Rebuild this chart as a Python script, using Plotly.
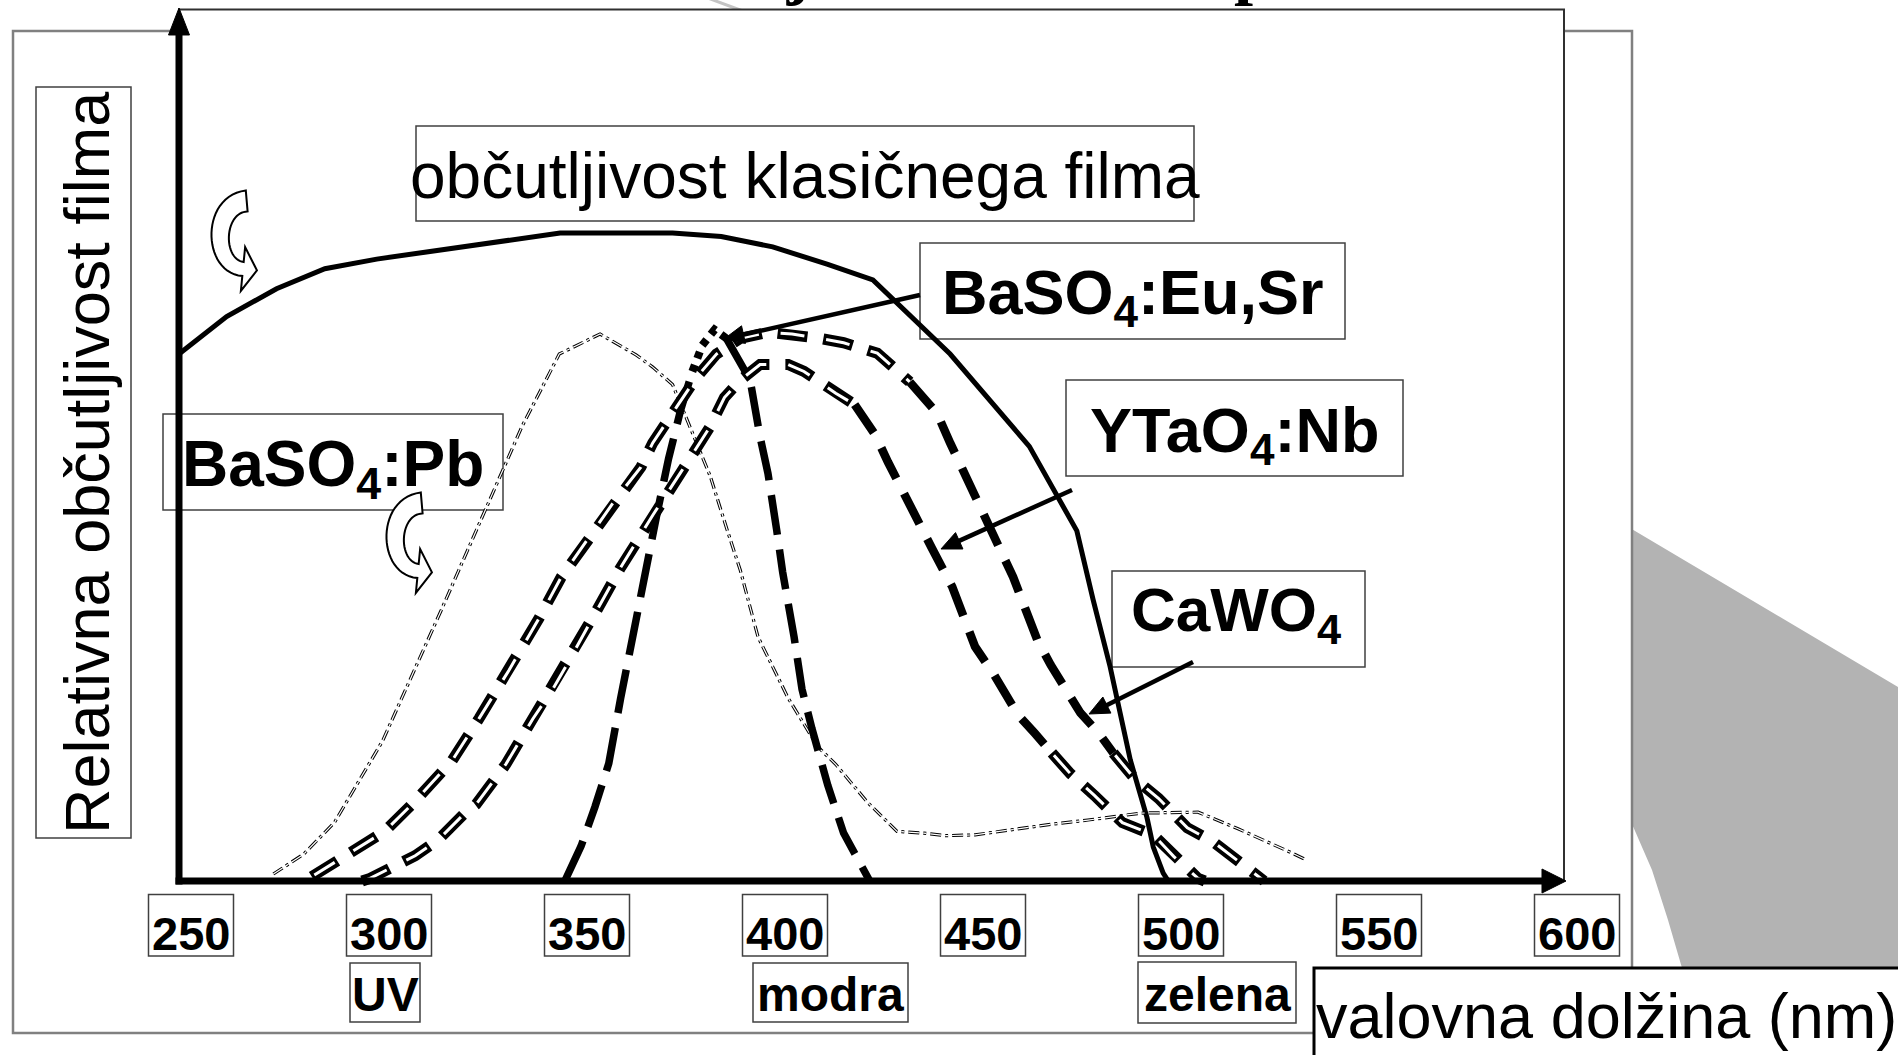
import numpy as np
import plotly.graph_objects as go

# ---------------- data ----------------
# classic film sensitivity (solid curve)
film_nm = [247.2, 259.0, 271.6, 283.8, 296.9, 322.2, 343.2, 371.6, 383.9, 396.9, 410.8,
           422.2, 441.7, 461.7, 473.7, 477.8, 482.1, 487.2, 491.4, 493.0, 495.5, 496.8]
film_y = [60.6, 64.8, 68.0, 70.3, 71.4, 73.0, 74.4, 74.4, 74.0, 72.8, 70.8,
          69.0, 60.5, 49.9, 40.2, 32.3, 24.6, 13.9, 7.3, 3.9, 0.9, 0.0]

# BaSO4:Pb emission (thin dash-dot)
pb_nm = [270.8, 278.5, 286.2, 298.4, 313.1, 333.6, 343.0, 353.3, 362.4, 366.6, 371.6,
         376.6, 381.1, 385.4, 388.7, 393.2, 400.8, 408.3, 412.8, 420.9, 428.3, 435.0,
         440.5, 448.0, 458.7, 467.1, 476.5, 490.0, 504.3, 514.4, 527.6, 531.3]
pb_y = [0.8, 3.1, 6.7, 16.1, 31.0, 52.2, 60.5, 62.8, 60.4, 59.0, 57.0,
        51.5, 46.5, 40.3, 35.7, 28.0, 21.0, 15.4, 13.4, 9.0, 5.7, 5.5,
        5.2, 5.3, 6.0, 6.5, 7.0, 7.8, 7.9, 6.0, 3.3, 2.5]

# BaSO4:Eu,Sr emission (long dashes)
eusr_nm = [344.4, 348.5, 352.0, 355.5, 358.5, 361.0, 363.2, 365.4, 367.6, 370.6, 373.6,
           376.6, 379.1, 382.2, 385.2, 388.7, 391.2, 393.7, 395.7, 397.9, 399.4, 402.3,
           404.3, 406.8, 410.8, 414.8, 417.8, 421.4]
eusr_y = [0.0, 4.0, 8.5, 13.5, 21.0, 27.0, 31.8, 37.0, 42.0, 48.5, 54.0,
          58.5, 61.5, 63.3, 62.3, 59.5, 57.5, 51.0, 46.8, 40.3, 35.5, 28.0,
          22.0, 17.5, 11.0, 5.5, 3.0, 0.0]

# YTaO4:Nb emission (heavy dashes, inner)
ytao_nm = [293.2, 295.2, 306.6, 312.6, 319.6, 322.0, 329.5, 336.3, 341.2, 345.0, 350.2,
           352.5, 358.5, 360.8, 366.6, 373.5, 381.0, 384.7, 388.7, 393.7, 400.8, 404.8,
           408.8, 412.8, 417.6, 422.8, 426.0, 431.0, 437.1, 442.2, 448.0, 452.5, 458.8,
           463.0, 467.4, 472.1, 478.2, 485.2, 493.0, 498.2, 504.3, 506.0]
ytao_y = [0.0, 0.3, 2.9, 4.8, 8.0, 8.8, 13.4, 18.6, 21.9, 24.9, 29.2,
          31.1, 36.0, 37.7, 42.0, 46.8, 52.1, 55.5, 57.5, 59.3, 59.3, 58.5,
          57.3, 56.0, 54.7, 51.2, 48.1, 43.5, 38.2, 33.8, 26.9, 23.9, 19.1,
          17.0, 14.7, 12.3, 9.8, 6.7, 5.3, 2.8, 0.3, 0.0]

# CaWO4 emission (heavy dashes, outer)
cawo_nm = [280.5, 292.2, 298.9, 305.8, 315.9, 322.8, 330.3, 337.8, 343.5, 351.8, 357.5,
           363.6, 366.6, 372.6, 377.6, 382.7, 388.7, 395.7, 401.8, 408.8, 414.8, 423.3,
           431.5, 438.4, 441.7, 446.7, 452.6, 457.6, 463.7, 467.1, 474.6, 479.2, 482.9,
           488.2, 494.3, 501.6, 508.1, 515.7, 521.0]
cawo_y = [0.5, 3.8, 5.7, 8.8, 13.8, 18.7, 24.2, 30.1, 34.9, 40.3, 44.0,
          47.5, 50.3, 54.4, 57.8, 60.5, 62.3, 63.0, 62.8, 62.3, 61.8, 60.6,
          57.3, 53.7, 50.3, 45.5, 40.0, 34.9, 27.7, 24.8, 19.3, 17.0, 14.7,
          11.8, 9.5, 6.1, 4.5, 1.8, 0.0]

tick_vals = [250, 300, 350, 400, 450, 500, 550, 600]
tick_text = ["250", "300", "350", "400", "450", "500", "550", "600"]
band_text = ["UV", "modra", "zelena"]

# ---------------- page geometry ----------------
W, H = 1898, 1055
PX_PER_NM = 3.96
X_AT_250 = 191.0
X0 = 250 - X_AT_250 / PX_PER_NM
X1 = X0 + W / PX_PER_NM
Y_BASE = 881.0
PX_PER_UNIT = 8.71
Y0 = (Y_BASE - H) / PX_PER_UNIT
Y1 = Y_BASE / PX_PER_UNIT

SANS = "Liberation Sans, Arial, sans-serif"
SERIF = "Liberation Serif, Times New Roman, serif"


def PX(x):
    return x / W


def PY(y):
    return 1 - y / H


shapes = []


def rect(x0, y0, x1, y1, color, lw, fill="white", layer="below"):
    shapes.append(dict(type="rect", xref="paper", yref="paper",
                       x0=PX(x0), x1=PX(x1), y0=PY(y1), y1=PY(y0),
                       line=dict(color=color, width=lw), fillcolor=fill, layer=layer))


def poly(points, fill, color, lw, layer="below"):
    d = "M " + " L ".join(f"{PX(x):.6f},{PY(y):.6f}" for x, y in points) + " Z"
    shapes.append(dict(type="path", xref="paper", yref="paper", path=d,
                       fillcolor=fill, line=dict(color=color, width=lw), layer=layer))


def seg(p, q, color, lw, layer="above"):
    shapes.append(dict(type="line", xref="paper", yref="paper", x0=PX(p[0]), y0=PY(p[1]),
                       x1=PX(q[0]), y1=PY(q[1]), line=dict(color=color, width=lw), layer=layer))


def pointer(start, tip, lw=4.5, head_len=20, head_hw=9):
    s = np.array(start, float)
    e = np.array(tip, float)
    d = (e - s) / np.linalg.norm(e - s)
    n = np.array([-d[1], d[0]])
    base = e - d * head_len
    seg(tuple(s), tuple(base + d * 2), "black", lw)
    poly([tuple(e), tuple(base + n * head_hw), tuple(base - n * head_hw)], "black", "black", 1, layer="above")


def curly_arrow(dx, dy):
    P = np.array([[246.7, 201.0], [212.0, 204.0], [212.0, 266.0], [243.0, 269.0]])
    P = P + np.array([dx, dy])
    t = np.linspace(0, 1, 30)[:, None]
    pts = ((1 - t) ** 3) * P[0] + 3 * ((1 - t) ** 2) * t * P[1] + 3 * (1 - t) * t ** 2 * P[2] + t ** 3 * P[3]
    der = 3 * ((1 - t) ** 2) * (P[1] - P[0]) + 6 * (1 - t) * t * (P[2] - P[1]) + 3 * t ** 2 * (P[3] - P[2])
    der = der / np.linalg.norm(der, axis=1)[:, None]
    nrm = np.column_stack([-der[:, 1], der[:, 0]])
    hw = (10.5 - 3.5 * t[:, 0])[:, None]
    left = pts + nrm * hw
    right = pts - nrm * hw
    d_end = der[-1]
    n_end = nrm[-1]
    head = [P[3] + n_end * 22, P[3] + d_end * 14, P[3] - n_end * 22]
    outline = list(map(tuple, left)) + [tuple(h) for h in head] + list(map(tuple, right[::-1]))
    poly(outline, "white", "black", 2, layer="below")


# background decorations
seg((705, -3), (751, 14), "#c4c4c4", 3, layer="below")
poly([(1630, 528), (1898, 687), (1898, 1055), (1695, 1055), (1682, 968), (1668, 920),
      (1652, 870), (1632, 824)], "#b3b3b3", "rgba(0,0,0,0)", 0)
rect(13, 31, 1632, 1033, "#808080", 2.5)
rect(179, 9.5, 1564, 881, "#303030", 2)

# label boxes
rect(36, 87, 131, 838, "#404040", 1.5)
rect(416, 126, 1194, 221, "#404040", 1.5)
rect(920, 243, 1345, 339, "#404040", 1.5)
rect(1066, 380, 1403, 476, "#404040", 1.5)
rect(1112, 571, 1365, 667, "#404040", 1.5)
rect(163, 414, 503, 510, "#404040", 1.5)
rect(350, 963, 420, 1022, "#404040", 1.5)
rect(753, 963, 908, 1022, "#404040", 1.5)
rect(1138, 962, 1296, 1023, "#404040", 1.5)
rect(1314, 968, 1902, 1075, "black", 3)

half_box = 42.5 / PX_PER_NM
for v in tick_vals:
    shapes.append(dict(type="rect", xref="x", yref="paper", x0=v - half_box, x1=v + half_box,
                       y0=PY(956), y1=PY(894.5), line=dict(color="#404040", width=1.5),
                       fillcolor="white", layer="below"))

curly_arrow(0, 0)
curly_arrow(175, 302)

# axes with arrowheads (above traces)
seg((179, 884.5), (179, 30), "black", 7)
poly([(179, 8), (168.5, 35), (189.5, 35)], "black", "black", 1, layer="above")
seg((175.5, 881), (1545, 881), "black", 7)
poly([(1566, 881), (1542, 869), (1542, 893)], "black", "black", 1, layer="above")

# label pointers
pointer((920, 295), (724, 339))
pointer((1072, 490), (941, 549))
pointer((1193, 662), (1089, 714))

# ---------------- traces ----------------
fig = go.Figure()


def add(xs, ys, color, width, dash):
    fig.add_trace(go.Scatter(x=xs, y=ys, mode="lines", hoverinfo="skip", showlegend=False,
                             line=dict(color=color, width=width, dash=dash)))


def part(xs, ys, lo, hi):
    sel = [(a, b) for a, b in zip(xs, ys) if lo <= a <= hi]
    return [a for a, _ in sel], [b for _, b in sel]


HOLLOW_OUT = "30px,16px"
HOLLOW_IN = "0px,3px,24px,19px"
SOLID_DASH = "34px,17px"

add(film_nm, film_y, "black", 5, "solid")

# BaSO4:Pb thin outlined dash-dot
add(pb_nm, pb_y, "black", 3.2, "11px,4px,3px,4px")
add(pb_nm, pb_y, "white", 1.2, "11px,4px,3px,4px")

# BaSO4:Eu,Sr
xs, ys = part(eusr_nm, eusr_y, 0, 376.6)
add(xs, ys, "black", 7.5, "44px,15px")
xs, ys = part(eusr_nm, eusr_y, 376.6, 385.2)
add(xs, ys, "black", 8, "7px,7px")
xs, ys = part(eusr_nm, eusr_y, 385.2, 999)
add(xs, ys, "black", 7.5, "40px,15px")


def heavy(nm, yy, solid_lo, solid_hi):
    for lo, hi, kind in [(0, solid_lo, "h"), (solid_lo, solid_hi, "s"), (solid_hi, 999, "h")]:
        xs, ys = part(nm, yy, lo, hi)
        if kind == "h":
            add(xs, ys, "black", 11, HOLLOW_OUT)
            add(xs, ys, "white", 3, HOLLOW_IN)
        else:
            add(xs, ys, "black", 8.5, SOLID_DASH)


heavy(ytao_nm, ytao_y, 417.6, 467.4)
heavy(cawo_nm, cawo_y, 431.5, 482.9)

# ---------------- annotations ----------------
ann = []


def text(t, xc, yc, size, bold=False, family=SANS, angle=0, xanchor="center", yanchor="middle"):
    ann.append(dict(text=t, x=PX(xc), y=PY(yc), xref="paper", yref="paper", showarrow=False,
                    xanchor=xanchor, yanchor=yanchor, textangle=angle, borderpad=0,
                    font=dict(family=family, size=size, color="black",
                              weight="bold" if bold else "normal")))


# slide title that sits above the page edge in the reference (only its descenders show)
text("Občutljivost filma in spektri", 584, 8, 68.5, bold=True, family=SERIF,
     xanchor="left", yanchor="bottom")

text("Relativna občutljivost filma", 87, 463, 63, angle=-90)
text("občutljivost klasičnega filma", 805, 176, 64)
text("BaSO<sub>4</sub>:Eu,Sr", 1133, 296, 63, bold=True)
text("YTaO<sub>4</sub>:Nb", 1234, 435, 63, bold=True)
text("CaWO<sub>4</sub>", 1236, 614, 62, bold=True)
text("BaSO<sub>4</sub>:Pb", 333, 468, 64, bold=True)
text("valovna dolžina (nm)", 1606, 1016, 63)

for v, lab in zip(tick_vals, tick_text):
    ann.append(dict(text=lab, x=v, y=PY(933), xref="x", yref="paper", showarrow=False,
                    xanchor="center", yanchor="middle",
                    font=dict(family=SANS, size=47, color="black", weight="bold")))

band_pos = [(385, 994), (830.5, 994), (1217, 994)]
for lab, (bx, by) in zip(band_text, band_pos):
    text(lab, bx, by, 48, bold=True)

fig.update_layout(
    width=W, height=H, autosize=False,
    margin=dict(l=0, r=0, t=0, b=0, pad=0),
    paper_bgcolor="white", plot_bgcolor="rgba(0,0,0,0)",
    xaxis=dict(range=[X0, X1], visible=False, fixedrange=True),
    yaxis=dict(range=[Y0, Y1], visible=False, fixedrange=True),
    shapes=shapes, annotations=ann, showlegend=False,
)

fig.write_html("out.html", include_plotlyjs=True, full_html=True,
               config={"displayModeBar": False, "staticPlot": True},
               post_script="document.body.style.margin='0px';document.body.style.overflow='hidden';")
